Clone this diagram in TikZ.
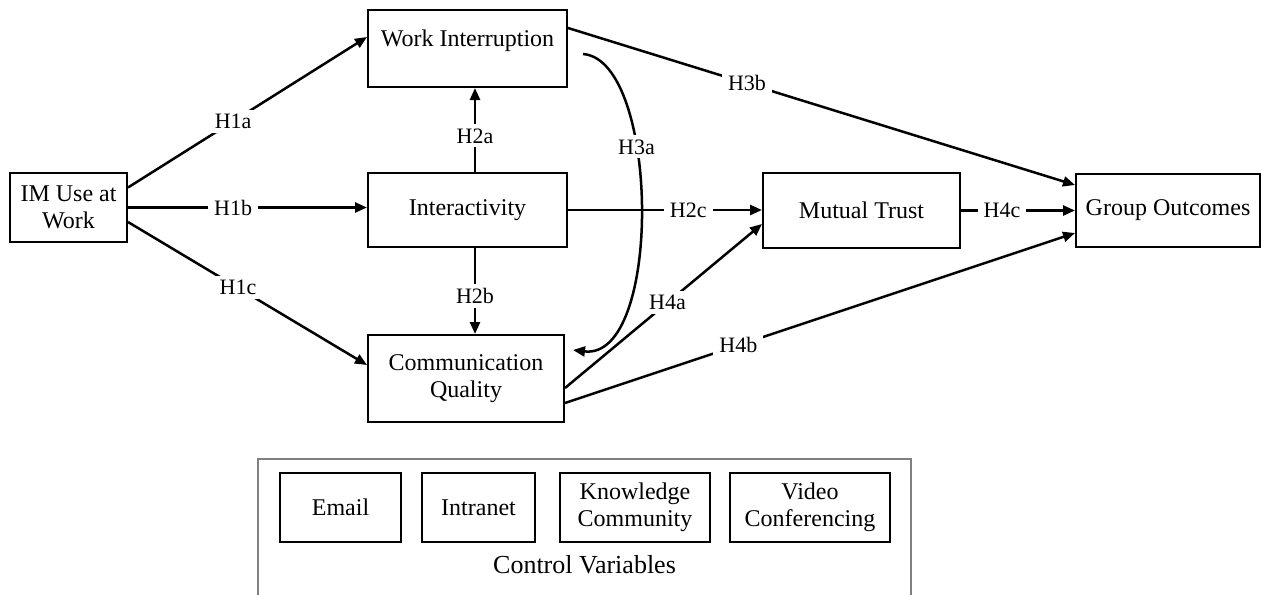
\documentclass[tikz,border=0pt]{standalone}
\usepackage{fontspec}
\setmainfont{Liberation Serif}
\usetikzlibrary{arrows.meta,positioning}

\begin{document}
\begin{tikzpicture}[x=0.5pt,y=-0.5pt,
  box/.style={draw,line width=1pt,align=center,inner sep=2pt,font=\fontsize{12}{13.5}\selectfont},
  hyp/.style={fill=white,inner xsep=3pt,inner ysep=2pt,font=\fontsize{11}{13}\selectfont},
  arr/.style={line width=1.25pt,-{Triangle[length=6pt,width=5pt]}}]
  \useasboundingbox (0,0) rectangle (1261,594);
  \node[box,minimum width=58.5pt,minimum height=34.5pt] (im) at (68.5,207.5) {IM Use at\\Work};
  \node[box,minimum width=99.5pt,minimum height=38.5pt,text depth=10pt] (wi) at (467.5,48.5) {Work Interruption};
  \node[box,minimum width=99.5pt,minimum height=37pt] (ia) at (467.5,210) {Interactivity};
  \node[box,minimum width=98pt,minimum height=43.5pt] (cq) at (466,378.5) {Communication\\Quality};
  \node[box,minimum width=98.5pt,minimum height=37.5pt] (mt) at (861.5,210.5) {Mutual Trust};
  \node[box,minimum width=92pt,minimum height=36.5pt] (go) at (1168,210.5) {Group Outcomes};
  \draw[arr] ([yshift=10pt]im.east) -- node[hyp,pos=0.44]{H1a} ([yshift=5.75pt]wi.west);
  \draw[arr] (im.east) -- node[hyp,pos=0.44]{H1b} (im.east -| ia.west);
  \draw[arr] ([yshift=-7.25pt]im.east) -- node[hyp,pos=0.46]{H1c} ([yshift=6.75pt]cq.west);
  \draw[arr] ([xshift=3.75pt]ia.north) -- node[hyp,pos=0.43]{H2a} ([xshift=3.75pt]ia.north |- wi.south);
  \draw[arr] ([xshift=3.75pt]ia.south) -- node[hyp,pos=0.56]{H2b} ([xshift=3.75pt]ia.south |- cq.north);
  \draw[arr] (ia.east) -- node[hyp,pos=0.62]{H2c} (ia.east -| mt.west);
  \draw[arr] ([xshift=7.5pt,yshift=-2.75pt]wi.east) .. controls +(77,6) and +(90,11) .. node[hyp,pos=0.36]{H3a} ([xshift=4pt,yshift=-8pt]cq.north east);
  \draw[arr] ([yshift=10.25pt]wi.east) -- node[hyp,pos=0.353]{H3b} ([yshift=12.75pt]go.west);
  \draw[arr] ([yshift=-4.75pt]cq.east) -- node[hyp,pos=0.52]{H4a} ([yshift=-6.75pt]mt.west);
  \draw[arr] ([yshift=-12.25pt]cq.east) -- node[hyp,pos=0.34]{H4b} ([yshift=-11.25pt]go.west);
  \draw[arr] (mt.east) -- node[hyp,pos=0.36]{H4c} (go.west);
  \node[draw=gray,line width=1pt,minimum width=326.5pt,minimum height=90.5pt] (ctrl) at (584.5,549.5) {};
  \foreach \n/\x/\w/\t in {em/340.5/60.5/Email,intra/478.5/56.5/Intranet,know/635/75/Knowledge\\Community,video/810/80/Video\\Conferencing}
    \node[box,minimum width=\w pt,minimum height=34.5pt] (\n) at (\x,507.5) {\t};
  \node[font=\fontsize{13}{15}\selectfont] (cv) at (584.5,565) {Control Variables};
\end{tikzpicture}
\end{document}
